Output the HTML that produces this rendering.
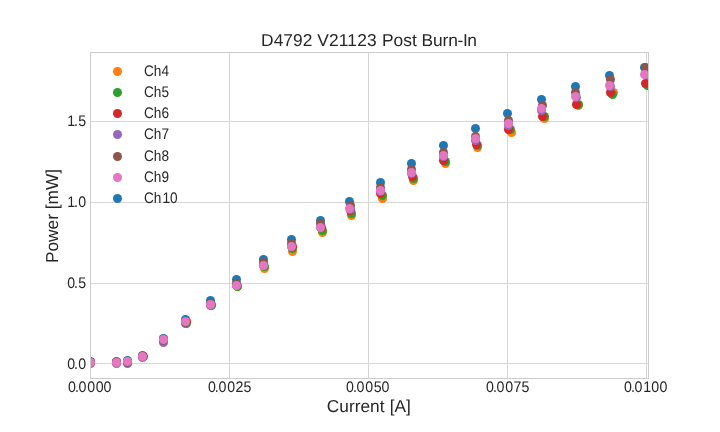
<!DOCTYPE html>
<html lang="en">
<head>
<meta charset="utf-8">
<title>D4792 V21123 Post Burn-In</title>
<style>
html,body{margin:0;padding:0;background:#fff;}
body{width:720px;height:432px;overflow:hidden;}
svg{display:block;}
text{font-family:"Liberation Sans",Arial,Helvetica,sans-serif;fill:#262626;}
.tick,.leg,.ttl,.lab{text-rendering:geometricPrecision;}
.grid line{stroke:#d6d6d6;stroke-width:1;shape-rendering:crispEdges;}
.spine line{stroke:#cccccc;stroke-width:1;shape-rendering:crispEdges;}
</style>
</head>
<body>
<svg width="720" height="432" viewBox="0 0 720 432" role="img" aria-label="D4792 V21123 Post Burn-In: Power [mW] versus Current [A]">
<rect x="0" y="0" width="720" height="432" fill="#ffffff"/>
<defs><clipPath id="ax"><rect x="90.0" y="52.0" width="558.5" height="326.5"/></clipPath></defs>
<g class="grid">
<line x1="229.5" y1="52.0" x2="229.5" y2="379.0"/>
<line x1="368.5" y1="52.0" x2="368.5" y2="379.0"/>
<line x1="507.5" y1="52.0" x2="507.5" y2="379.0"/>
<line x1="646.5" y1="52.0" x2="646.5" y2="379.0"/>
<line x1="90.0" y1="363.5" x2="649.0" y2="363.5"/>
<line x1="90.0" y1="283.5" x2="649.0" y2="283.5"/>
<line x1="90.0" y1="202.5" x2="649.0" y2="202.5"/>
<line x1="90.0" y1="121.5" x2="649.0" y2="121.5"/>
</g>
<g clip-path="url(#ax)">
<g fill="#1f77b4">
<circle cx="90.5" cy="361.5" r="4.5"/>
<circle cx="116.5" cy="361.5" r="4.5"/>
<circle cx="127.5" cy="360.5" r="4.5"/>
<circle cx="142.5" cy="355.5" r="4.5"/>
<circle cx="163.5" cy="338.5" r="4.5"/>
<circle cx="185.5" cy="319.5" r="4.5"/>
<circle cx="210.5" cy="300.5" r="4.5"/>
<circle cx="236.5" cy="279.5" r="4.5"/>
<circle cx="263.5" cy="259.5" r="4.5"/>
<circle cx="291.5" cy="239.5" r="4.5"/>
<circle cx="320.5" cy="220.5" r="4.5"/>
<circle cx="349.5" cy="201.5" r="4.5"/>
<circle cx="380.5" cy="182.5" r="4.5"/>
<circle cx="411.5" cy="163.5" r="4.5"/>
<circle cx="443.5" cy="145.5" r="4.5"/>
<circle cx="475.5" cy="128.5" r="4.5"/>
<circle cx="507.5" cy="113.5" r="4.5"/>
<circle cx="541.5" cy="99.5" r="4.5"/>
<circle cx="575.5" cy="86.5" r="4.5"/>
<circle cx="609.5" cy="75.5" r="4.5"/>
<circle cx="644.5" cy="67.5" r="4.5"/>
</g>
<g fill="#ff7f0e">
<circle cx="90.5" cy="362.5" r="4.5"/>
<circle cx="116.5" cy="362.5" r="4.5"/>
<circle cx="127.5" cy="361.5" r="4.5"/>
<circle cx="142.5" cy="356.5" r="4.5"/>
<circle cx="163.5" cy="339.5" r="4.5"/>
<circle cx="186.5" cy="322.5" r="4.5"/>
<circle cx="211.5" cy="304.5" r="4.5"/>
<circle cx="237.5" cy="286.5" r="4.5"/>
<circle cx="264.5" cy="268.5" r="4.5"/>
<circle cx="292.5" cy="251.5" r="4.5"/>
<circle cx="322.5" cy="232.5" r="4.5"/>
<circle cx="351.5" cy="215.5" r="4.5"/>
<circle cx="382.5" cy="198.5" r="4.5"/>
<circle cx="413.5" cy="180.5" r="4.5"/>
<circle cx="445.5" cy="163.5" r="4.5"/>
<circle cx="477.5" cy="147.5" r="4.5"/>
<circle cx="511.5" cy="132.5" r="4.5"/>
<circle cx="544.5" cy="118.5" r="4.5"/>
<circle cx="578.5" cy="105.5" r="4.5"/>
<circle cx="613.5" cy="92.5" r="4.5"/>
<circle cx="648.5" cy="82.5" r="4.5"/>
</g>
<g fill="#2ca02c">
<circle cx="90.5" cy="362.5" r="4.5"/>
<circle cx="116.5" cy="362.5" r="4.5"/>
<circle cx="127.5" cy="361.5" r="4.5"/>
<circle cx="142.5" cy="356.5" r="4.5"/>
<circle cx="163.5" cy="339.5" r="4.5"/>
<circle cx="186.5" cy="323.5" r="4.5"/>
<circle cx="211.5" cy="305.5" r="4.5"/>
<circle cx="237.5" cy="286.5" r="4.5"/>
<circle cx="264.5" cy="266.5" r="4.5"/>
<circle cx="292.5" cy="248.5" r="4.5"/>
<circle cx="322.5" cy="230.5" r="4.5"/>
<circle cx="351.5" cy="213.5" r="4.5"/>
<circle cx="382.5" cy="195.5" r="4.5"/>
<circle cx="413.5" cy="178.5" r="4.5"/>
<circle cx="445.5" cy="161.5" r="4.5"/>
<circle cx="477.5" cy="145.5" r="4.5"/>
<circle cx="510.5" cy="129.5" r="4.5"/>
<circle cx="544.5" cy="116.5" r="4.5"/>
<circle cx="578.5" cy="104.5" r="4.5"/>
<circle cx="612.5" cy="94.5" r="4.5"/>
<circle cx="647.5" cy="85.5" r="4.5"/>
</g>
<g fill="#d62728">
<circle cx="90.5" cy="362.5" r="4.5"/>
<circle cx="116.5" cy="362.5" r="4.5"/>
<circle cx="127.5" cy="362.5" r="4.5"/>
<circle cx="143.5" cy="356.5" r="4.5"/>
<circle cx="163.5" cy="339.5" r="4.5"/>
<circle cx="186.5" cy="321.5" r="4.5"/>
<circle cx="210.5" cy="304.5" r="4.5"/>
<circle cx="236.5" cy="285.5" r="4.5"/>
<circle cx="263.5" cy="265.5" r="4.5"/>
<circle cx="292.5" cy="246.5" r="4.5"/>
<circle cx="321.5" cy="227.5" r="4.5"/>
<circle cx="350.5" cy="210.5" r="4.5"/>
<circle cx="380.5" cy="193.5" r="4.5"/>
<circle cx="412.5" cy="176.5" r="4.5"/>
<circle cx="443.5" cy="160.5" r="4.5"/>
<circle cx="476.5" cy="144.5" r="4.5"/>
<circle cx="508.5" cy="129.5" r="4.5"/>
<circle cx="542.5" cy="116.5" r="4.5"/>
<circle cx="576.5" cy="104.5" r="4.5"/>
<circle cx="610.5" cy="92.5" r="4.5"/>
<circle cx="645.5" cy="83.5" r="4.5"/>
</g>
<g fill="#9467bd">
<circle cx="90.5" cy="363.5" r="4.5"/>
<circle cx="116.5" cy="363.5" r="4.5"/>
<circle cx="127.5" cy="363.5" r="4.5"/>
<circle cx="142.5" cy="357.5" r="4.5"/>
<circle cx="163.5" cy="342.5" r="4.5"/>
<circle cx="185.5" cy="323.5" r="4.5"/>
<circle cx="210.5" cy="305.5" r="4.5"/>
<circle cx="236.5" cy="285.5" r="4.5"/>
<circle cx="263.5" cy="265.5" r="4.5"/>
<circle cx="291.5" cy="246.5" r="4.5"/>
<circle cx="320.5" cy="227.5" r="4.5"/>
<circle cx="350.5" cy="209.5" r="4.5"/>
<circle cx="380.5" cy="191.5" r="4.5"/>
<circle cx="411.5" cy="173.5" r="4.5"/>
<circle cx="443.5" cy="156.5" r="4.5"/>
<circle cx="475.5" cy="140.5" r="4.5"/>
<circle cx="508.5" cy="125.5" r="4.5"/>
<circle cx="541.5" cy="110.5" r="4.5"/>
<circle cx="576.5" cy="97.5" r="4.5"/>
<circle cx="610.5" cy="86.5" r="4.5"/>
<circle cx="645.5" cy="74.5" r="4.5"/>
</g>
<g fill="#8c564b">
<circle cx="90.5" cy="362.5" r="4.5"/>
<circle cx="116.5" cy="362.5" r="4.5"/>
<circle cx="127.5" cy="362.5" r="4.5"/>
<circle cx="142.5" cy="356.5" r="4.5"/>
<circle cx="163.5" cy="340.5" r="4.5"/>
<circle cx="185.5" cy="322.5" r="4.5"/>
<circle cx="210.5" cy="303.5" r="4.5"/>
<circle cx="236.5" cy="283.5" r="4.5"/>
<circle cx="263.5" cy="262.5" r="4.5"/>
<circle cx="291.5" cy="243.5" r="4.5"/>
<circle cx="320.5" cy="223.5" r="4.5"/>
<circle cx="350.5" cy="205.5" r="4.5"/>
<circle cx="380.5" cy="187.5" r="4.5"/>
<circle cx="411.5" cy="169.5" r="4.5"/>
<circle cx="443.5" cy="152.5" r="4.5"/>
<circle cx="475.5" cy="136.5" r="4.5"/>
<circle cx="508.5" cy="120.5" r="4.5"/>
<circle cx="542.5" cy="105.5" r="4.5"/>
<circle cx="575.5" cy="92.5" r="4.5"/>
<circle cx="610.5" cy="79.5" r="4.5"/>
<circle cx="645.5" cy="67.5" r="4.5"/>
</g>
<g fill="#e377c2">
<circle cx="90.5" cy="362.5" r="4.5"/>
<circle cx="116.5" cy="362.5" r="4.5"/>
<circle cx="127.5" cy="361.5" r="4.5"/>
<circle cx="142.5" cy="356.5" r="4.5"/>
<circle cx="163.5" cy="339.5" r="4.5"/>
<circle cx="185.5" cy="321.5" r="4.5"/>
<circle cx="210.5" cy="304.5" r="4.5"/>
<circle cx="236.5" cy="285.5" r="4.5"/>
<circle cx="263.5" cy="265.5" r="4.5"/>
<circle cx="291.5" cy="246.5" r="4.5"/>
<circle cx="320.5" cy="227.5" r="4.5"/>
<circle cx="349.5" cy="208.5" r="4.5"/>
<circle cx="380.5" cy="190.5" r="4.5"/>
<circle cx="411.5" cy="172.5" r="4.5"/>
<circle cx="443.5" cy="155.5" r="4.5"/>
<circle cx="475.5" cy="138.5" r="4.5"/>
<circle cx="508.5" cy="123.5" r="4.5"/>
<circle cx="541.5" cy="108.5" r="4.5"/>
<circle cx="575.5" cy="96.5" r="4.5"/>
<circle cx="609.5" cy="85.5" r="4.5"/>
<circle cx="644.5" cy="74.5" r="4.5"/>
</g>
</g>
<g class="spine">
<line x1="90.5" y1="52.0" x2="90.5" y2="379.0"/>
<line x1="648.5" y1="52.0" x2="648.5" y2="379.0"/>
<line x1="90.0" y1="52.5" x2="649.0" y2="52.5"/>
<line x1="90.0" y1="378.5" x2="649.0" y2="378.5"/>
</g>
<text class="tick" transform="translate(89.75 392) scale(1 1.08)" text-anchor="middle" font-size="14.2" dx="0 -1 -0.33 0.83 0.5 0">0.0000</text>
<text class="tick" transform="translate(229.65 392) scale(1 1.08)" text-anchor="middle" font-size="14.2" dx="0 -1 -0.33 0.83 0.5 0">0.0025</text>
<text class="tick" transform="translate(367.75 392) scale(1 1.08)" text-anchor="middle" font-size="14.2" dx="0 -1 -0.33 0.83 0.5 0">0.0050</text>
<text class="tick" transform="translate(507.7 392) scale(1 1.08)" text-anchor="middle" font-size="14.2" dx="0 -1 -0.33 0.83 0.5 0">0.0075</text>
<text class="tick" transform="translate(645.75 392) scale(1 1.08)" text-anchor="middle" font-size="14.2" dx="0 -1 -0.33 0.83 0 0.5">0.0100</text>
<text class="tick" transform="translate(86.2 369) scale(1 1.08)" text-anchor="end" font-size="14.2" dx="0 -1.15 0.4">0.0</text>
<text class="tick" transform="translate(86.2 288) scale(1 1.08)" text-anchor="end" font-size="14.2" dx="0 -1.15 0.4">0.5</text>
<text class="tick" transform="translate(86.2 207) scale(1 1.08)" text-anchor="end" font-size="14.2" dx="0 -1.15 0.4">1.0</text>
<text class="tick" transform="translate(86.2 126) scale(1 1.08)" text-anchor="end" font-size="14.2" dx="0 -1.15 0.4">1.5</text>
<text class="ttl" transform="translate(369 46) scale(1.006 1)" text-anchor="middle" font-size="17.28" dx="0 0 0 0 0 0 0 0.2 0.2 0.1 0.2 0.1 0.25 0.25 0 0 0 0 -0.1 -0.1 -0.1 -0.1 -0.4 -0.4 -0.5">D4792 V21123 Post Burn-In</text>
<text class="lab" transform="translate(368.85 412)" text-anchor="middle" font-size="17.28" dx="0 0 0 0 0 0 0 0.2 0.2 0 0">Current [A]</text>
<text class="lab" transform="translate(57.6 216) rotate(-90)" text-anchor="middle" font-size="17.28">Power [mW]</text>
<circle cx="117.5" cy="71.5" r="4.5" fill="#ff7f0e"/>
<text class="leg" transform="translate(144 76) scale(0.96 1.08)" text-anchor="start" font-size="14.2">Ch4</text>
<circle cx="117.5" cy="92.5" r="4.5" fill="#2ca02c"/>
<text class="leg" transform="translate(144 97) scale(0.96 1.08)" text-anchor="start" font-size="14.2">Ch5</text>
<circle cx="117.5" cy="113.5" r="4.5" fill="#d62728"/>
<text class="leg" transform="translate(144 118) scale(0.96 1.08)" text-anchor="start" font-size="14.2">Ch6</text>
<circle cx="117.5" cy="134.5" r="4.5" fill="#9467bd"/>
<text class="leg" transform="translate(144 139) scale(0.96 1.08)" text-anchor="start" font-size="14.2">Ch7</text>
<circle cx="117.5" cy="156.5" r="4.5" fill="#8c564b"/>
<text class="leg" transform="translate(144 161) scale(0.96 1.08)" text-anchor="start" font-size="14.2">Ch8</text>
<circle cx="117.5" cy="177.5" r="4.5" fill="#e377c2"/>
<text class="leg" transform="translate(144 182) scale(0.96 1.08)" text-anchor="start" font-size="14.2">Ch9</text>
<circle cx="117.5" cy="198.5" r="4.5" fill="#1f77b4"/>
<text class="leg" transform="translate(144 203) scale(0.96 1.08)" text-anchor="start" font-size="14.2" dx="0 0 1 0">Ch10</text>
</svg>
</body>
</html>
